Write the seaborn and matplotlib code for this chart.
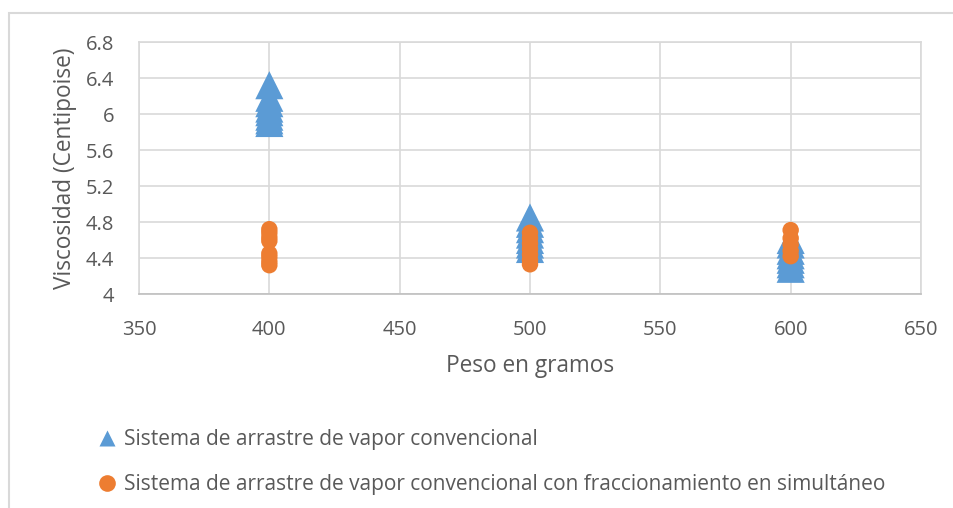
import matplotlib
matplotlib.use("Agg")
import matplotlib.pyplot as plt
from matplotlib.lines import Line2D
from matplotlib.patches import Rectangle
import seaborn as sns
import pandas as pd

# Viscosity readings (cP) per sample weight (g)
peso_conv = [400] * 8 + [500] * 7 + [600] * 7
visc_conv = [6.32, 6.18, 6.12, 6.06, 6.02, 5.97, 5.93, 5.90,
             4.85, 4.78, 4.72, 4.66, 4.60, 4.55, 4.50,
             4.60, 4.55, 4.48, 4.43, 4.38, 4.33, 4.28]

peso_frac = [400] * 8 + [500] * 7 + [600] * 5
visc_frac = [4.72, 4.68, 4.63, 4.59, 4.45, 4.41, 4.36, 4.32,
             4.68, 4.62, 4.56, 4.50, 4.44, 4.38, 4.33,
             4.71, 4.62, 4.55, 4.48, 4.42]

series_names = ["Sistema de arrastre de vapor convencional",
                "Sistema de arrastre de vapor convencional con fraccionamiento en simultáneo"]
x_ticks = [350, 400, 450, 500, 550, 600, 650]
y_ticks = [4, 4.4, 4.8, 5.2, 5.6, 6, 6.4, 6.8]
y_tick_labels = ["4", "4.4", "4.8", "5.2", "5.6", "6", "6.4", "6.8"]

df_conv = pd.DataFrame({"peso": peso_conv, "visc": visc_conv})
df_frac = pd.DataFrame({"peso": peso_frac, "visc": visc_frac})

BLUE = "#5B9BD5"
ORANGE = "#ED7D31"
TEXT = "#595959"
GRID = "#D9D9D9"

sns.set_theme(style="white")
plt.rcParams["font.family"] = ["Open Sans", "DejaVu Sans"]

fig = plt.figure(figsize=(9.54, 5.08), dpi=100)
ax = fig.add_axes([139 / 954, 1 - 294 / 508, (921 - 139) / 954, (294 - 42) / 508])

# outer chart-area frame
fig.patches.append(Rectangle((9 / 954, -0.1), 1.2, 1 - 13 / 508 + 0.1,
                             transform=fig.transFigure, fill=False,
                             edgecolor=GRID, linewidth=1.5, zorder=0))

sns.scatterplot(data=df_conv, x="peso", y="visc", ax=ax, marker="^", s=410,
                color=BLUE, edgecolor="none", linewidth=0, zorder=3, legend=False)
sns.scatterplot(data=df_frac, x="peso", y="visc", ax=ax, marker="o", s=140,
                color=ORANGE, edgecolor="none", linewidth=0, zorder=4, legend=False)

ax.set_xlim(350, 650)
ax.set_ylim(4, 6.8)
ax.set_xticks(x_ticks)
ax.set_yticks(y_ticks)
ax.set_yticklabels(y_tick_labels)
ax.grid(True, color=GRID, linewidth=1.2)
ax.set_axisbelow(True)
for side in ["top", "right", "left"]:
    ax.spines[side].set_color(GRID)
    ax.spines[side].set_linewidth(1.2)
ax.spines["bottom"].set_color("#BFBFBF")
ax.spines["bottom"].set_linewidth(1.2)
ax.tick_params(axis="both", length=0, labelsize=14.5, labelcolor=TEXT)
ax.tick_params(axis="y", pad=18)
ax.tick_params(axis="x", pad=19)

ax.set_xlabel("Peso en gramos", fontsize=16.3, color=TEXT, labelpad=10)
ax.set_ylabel("Viscosidad (Centipoise)", fontsize=16.3, color=TEXT, labelpad=6)

handles = [Line2D([], [], linestyle="none", marker="^", markersize=12,
                  markerfacecolor=BLUE, markeredgecolor="none"),
           Line2D([], [], linestyle="none", marker="o", markersize=12,
                  markerfacecolor=ORANGE, markeredgecolor="none")]
fig.legend(handles, series_names, loc="upper left",
           bbox_to_anchor=(82 / 954, 1 - 421 / 508), frameon=False,
           fontsize=15, labelcolor=TEXT, handletextpad=0.0,
           handlelength=1.6, labelspacing=1.15, borderaxespad=0)

fig.savefig("out.png", dpi=100)
